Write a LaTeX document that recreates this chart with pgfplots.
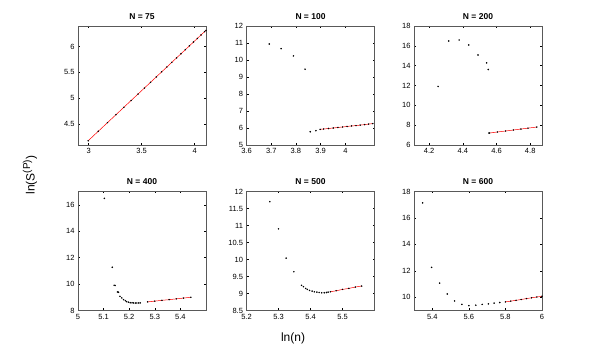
\documentclass[border=0pt]{standalone}
\usepackage{fontspec}
\setmainfont{Liberation Sans}
\usepackage{pgfplots}
\pgfplotsset{compat=1.18}

\pgfplotsset{
  panel/.style={
    scale only axis, width=128pt, height=119pt, anchor=north west,
    axis line style={black!65, line width=0.8pt},
    tick align=inside, major tick length=2pt,
    tick style={black, line width=0.4pt},
    tick label style={font=\fontsize{7.5}{8}\selectfont},
    title style={font=\bfseries\fontsize{8.5}{9}\selectfont, yshift=-3pt},
    /pgf/number format/assume math mode=true,
    scaled ticks=false,
  },
  dots/.style={only marks, mark=*, mark size=0.55pt, black},
  fit/.style={red, line width=0.5pt, mark=*, mark size=0.45pt,
    mark options={draw=black, fill=black}},
}

\begin{document}
\begin{tikzpicture}
\useasboundingbox (0,0) rectangle (599pt,350pt);

% N = 75
\begin{axis}[panel, at={(78pt,324pt)}, title={N = 75},
  xmin=2.9, xmax=4.107, ymin=4.09, ymax=6.4,
  xtick={3,3.5,4}, ytick={4.5,5,5.5,6}]
\addplot[fit] coordinates {
 (2.996,4.172) (3.091,4.356) (3.178,4.524) (3.258,4.678) (3.332,4.821)
 (3.401,4.954) (3.466,5.079) (3.526,5.195) (3.584,5.307) (3.638,5.411)
 (3.689,5.510) (3.738,5.604) (3.784,5.693) (3.829,5.780) (3.871,5.861)
 (3.912,5.940) (3.951,6.015) (3.989,6.089) (4.025,6.158) (4.060,6.226)
 (4.094,6.291) (4.107,6.315)};
\end{axis}

% N = 100
\begin{axis}[panel, at={(246.5pt,324pt)}, title={N = 100},
  xmin=3.6, xmax=4.118, ymin=5, ymax=12,
  xtick={3.6,3.7,3.8,3.9,4}, ytick={5,6,...,12}]
\addplot[dots] coordinates {
 (3.692,10.94) (3.740,10.67) (3.790,10.24) (3.837,9.46) (3.858,5.78) (3.881,5.84)};
\addplot[fit] coordinates {
 (3.898,5.92) (3.912,5.94) (3.932,5.97) (3.951,6.00) (3.970,6.03) (3.989,6.06)
 (4.007,6.09) (4.025,6.12) (4.043,6.14) (4.060,6.17) (4.078,6.20) (4.094,6.23)
 (4.111,6.26)};
\end{axis}

% N = 200
\begin{axis}[panel, at={(414pt,324pt)}, title={N = 200},
  xmin=4.11, xmax=4.87, ymin=6, ymax=18,
  xtick={4.2,4.4,4.6,4.8}, ytick={6,8,...,18}]
\addplot[dots] coordinates {
 (4.253,11.90) (4.316,16.49) (4.378,16.59) (4.435,16.09) (4.490,15.08)
 (4.541,14.28) (4.551,13.61) (4.555,7.20)};
\addplot[fit] coordinates {
 (4.559,7.21) (4.605,7.31) (4.654,7.41) (4.700,7.51) (4.745,7.61)
 (4.787,7.70) (4.839,7.81)};
\end{axis}

% N = 400
\begin{axis}[panel, at={(78pt,158.5pt)}, title={N = 400},
  xmin=5, xmax=5.5, ymin=8, ymax=17,
  xtick={5,5.1,5.2,5.3,5.4}, ytick={8,10,...,16}]
\addplot[dots] coordinates {
 (5.103,16.48) (5.134,11.27) (5.141,9.91) (5.145,9.89) (5.154,9.40) (5.158,9.38)
 (5.164,9.07) (5.171,8.95) (5.178,8.82) (5.185,8.74) (5.190,8.67) (5.197,8.63)
 (5.204,8.59) (5.211,8.58) (5.217,8.57) (5.224,8.565) (5.230,8.565) (5.237,8.57)
 (5.243,8.57)};
\addplot[fit] coordinates {
 (5.272,8.65) (5.300,8.71) (5.328,8.77) (5.356,8.82) (5.384,8.88)
 (5.412,8.94) (5.441,9.00)};
\end{axis}

% N = 500
\begin{axis}[panel, at={(246.5pt,158.5pt)}, title={N = 500},
  xmin=5.2, xmax=5.6, ymin=8.5, ymax=12,
  xtick={5.2,5.3,5.4,5.5}, ytick={8.5,9,...,12}]
\addplot[dots] coordinates {
 (5.273,11.70) (5.300,10.90) (5.324,10.04) (5.348,9.64) (5.372,9.24) (5.378,9.20)
 (5.385,9.15) (5.390,9.12) (5.397,9.09) (5.405,9.07) (5.412,9.05) (5.420,9.04)
 (5.427,9.03) (5.435,9.02) (5.443,9.02) (5.450,9.03) (5.455,9.04)};
\addplot[fit] coordinates {
 (5.462,9.05) (5.480,9.08) (5.500,9.12) (5.520,9.15) (5.540,9.19) (5.560,9.22)};
\end{axis}

% N = 600
\begin{axis}[panel, at={(414pt,158.5pt)}, title={N = 600},
  xmin=5.3, xmax=6, ymin=9, ymax=18,
  xtick={5.4,5.6,5.8,6}, ytick={10,12,...,18}]
\addplot[dots] coordinates {
 (5.347,17.14) (5.396,12.26) (5.440,11.07) (5.482,10.25) (5.522,9.72)
 (5.562,9.46) (5.600,9.37) (5.638,9.40) (5.673,9.46) (5.707,9.50)
 (5.738,9.56) (5.769,9.60)};
\addplot[fit] coordinates {
 (5.800,9.65) (5.829,9.71) (5.858,9.77) (5.886,9.83) (5.915,9.90)
 (5.943,9.96) (5.972,10.02) (6.000,10.08)};
\end{axis}

\node[rotate=90, font=\fontsize{12}{14}\selectfont] at (30pt,175pt)
  {ln(S\textsuperscript{\fontsize{10}{12}\selectfont (P)})};
\node[font=\fontsize{12}{14}\selectfont] at (293pt,12pt) {ln(n)};
\end{tikzpicture}
\end{document}
